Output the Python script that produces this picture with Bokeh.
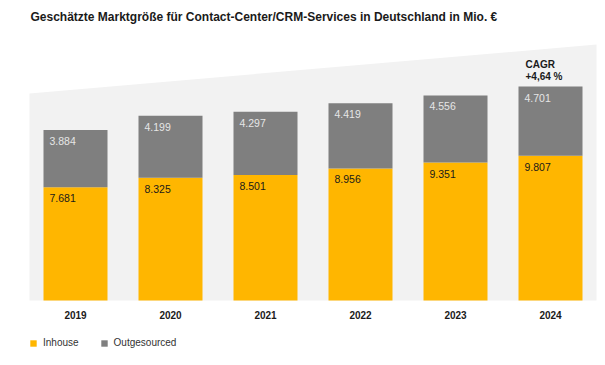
from bokeh.plotting import figure
from bokeh.models import Range1d, ColumnDataSource, Legend, LegendItem
from bokeh.core.properties import value
from bokeh.embed import file_html
from bokeh.resources import INLINE

# ---- data ----
years = ["2019", "2020", "2021", "2022", "2023", "2024"]
inhouse = [7681, 8325, 8501, 8956, 9351, 9807]
outsourced = [3884, 4199, 4297, 4419, 4556, 4701]
inhouse_labels = ["7.681", "8.325", "8.501", "8.956", "9.351", "9.807"]
outsourced_labels = ["3.884", "4.199", "4.297", "4.419", "4.556", "4.701"]
title_text = "Geschätzte Marktgröße für Contact-Center/CRM-Services in Deutschland in Mio. €"
cagr_lines = ["CAGR", "+4,64 %"]

YELLOW = "#FFB600"
GRAY = "#7F7F7F"
BG = "#F2F2F2"
FONT = "Liberation Sans"

W, H = 600, 360
K = 67.8          # value units per pixel
STEP = 95.0       # pixels per category
X0 = 75.0         # page x of first bar centre
BASE = 300.0      # page y of zero line

def dx(px):
    return (px - X0) / STEP

def dy(py):
    return (BASE - py) * K

p = figure(width=W, height=H, output_backend="svg", toolbar_location=None,
           x_range=Range1d(dx(0), dx(W)), y_range=Range1d(dy(H), dy(0)),
           min_border=0, outline_line_color=None)
p.axis.visible = False
p.grid.visible = False
p.background_fill_color = "white"
p.border_fill_color = "white"

# background wedge
p.patch([dx(29), dx(29), dx(596), dx(596)], [dy(300), dy(93), dy(44), dy(300)],
        fill_color=BG, line_color=None)

idx = list(range(len(years)))
tops = [a + b for a, b in zip(inhouse, outsourced)]
src = ColumnDataSource(dict(x=idx, inhouse=inhouse, outsourced=outsourced))
bw = 64 / STEP
rs = p.vbar_stack(["inhouse", "outsourced"], x="x", width=bw, color=[YELLOW, GRAY],
                  line_color=None, source=src)

# value labels
off_x = 6 / STEP
lab = ColumnDataSource(dict(
    xi=[i - bw / 2 + off_x for i in idx],
    yi=[v - 11 * K for v in inhouse],
    ti=inhouse_labels,
    yo=[t - 11 * K for t in tops],
    to=outsourced_labels,
))
p.text(x="xi", y="yi", text="ti", source=lab, text_font=value(FONT),
       text_font_size="10.5px", text_color="#1a1a1a", text_align="left", text_baseline="middle")
p.text(x="xi", y="yo", text="to", source=lab, text_font=value(FONT),
       text_font_size="10.5px", text_color="#E6E6E6", text_align="left", text_baseline="middle")

# year labels
p.text(x=idx, y=[dy(314)] * len(idx), text=years, text_font=value(FONT),
       text_font_size="10px", text_font_style="bold", text_color="#1a1a1a",
       text_align="center", text_baseline="middle")

# CAGR
p.text(x=[dx(525)] * 2, y=[dy(64), dy(76)], text=cagr_lines, text_font=value(FONT),
       text_font_size="10px", text_font_style="bold", text_color="#1a1a1a",
       text_align="left", text_baseline="middle")

# title
p.text(x=[dx(30)], y=[dy(16)], text=[title_text], text_font=value(FONT),
       text_font_size="12px", text_font_style="bold", text_color="#1a1a1a",
       text_align="left", text_baseline="middle")

legend = Legend(items=[LegendItem(label="Inhouse", renderers=[rs[0]]),
                       LegendItem(label="Outgesourced", renderers=[rs[1]])],
                orientation="horizontal", location=(29, 12),
                glyph_width=8, glyph_height=8, label_height=10, label_standoff=6,
                spacing=21, padding=0, margin=0, border_line_color=None,
                background_fill_alpha=0, label_text_font=FONT,
                label_text_font_size="10px", label_text_color="#333333")
p.add_layout(legend)

open("out.html", "w").write(file_html(p, INLINE))
